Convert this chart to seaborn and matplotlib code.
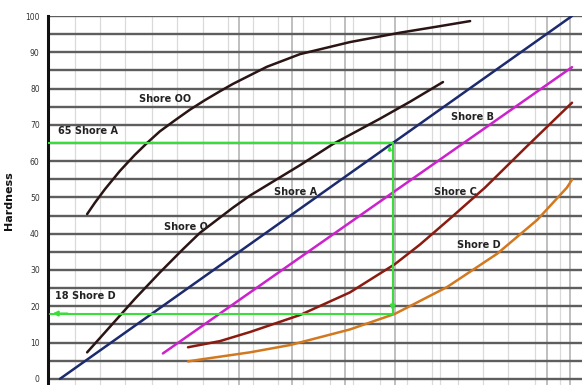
import numpy as np
import pandas as pd
import matplotlib
matplotlib.use("Agg")
import matplotlib.pyplot as plt
import seaborn as sns

# ---- data (x axis = Shore A scale, y = hardness) ----
oo_x = [5.3, 6.8, 8.8, 11.7, 14.6, 17.0, 19.5, 22.5, 25.4, 28.3, 31.3, 33.8, 40.4, 46.9, 56.6, 66.4, 74.2, 80.1]
oo_y = [45.4, 48.5, 52.3, 57.3, 61.7, 65.0, 68.2, 71.3, 74.2, 76.8, 79.3, 81.3, 86.0, 89.5, 92.8, 95.4, 97.2, 98.6]

o_x = [5.3, 9.8, 14.6, 19.5, 24.0, 27.3, 33.8, 37.1, 46.9, 53.3, 62.5, 68.4, 74.8]
o_y = [7.3, 14.4, 22.0, 29.3, 35.7, 40.2, 47.2, 50.5, 58.9, 64.7, 71.7, 76.4, 81.8]

a_x = [0.0, 100.0]
a_y = [0.0, 100.0]

b_x = [20.1, 100.0]
b_y = [7.0, 85.9]

c_x = [25.0, 31.25, 37.1, 46.9, 56.6, 65.4, 70.3, 76.2, 83.0, 91.2, 100.0]
c_y = [8.7, 10.4, 12.9, 17.6, 23.8, 31.6, 37.0, 44.2, 52.7, 64.1, 76.1]

d_x = [25.0, 27.3, 37.1, 44.9, 56.6, 65.4, 75.6, 85.4, 93.2, 99.0, 100.0]
d_y = [4.8, 5.3, 7.3, 9.3, 13.6, 17.9, 25.3, 34.5, 43.8, 52.7, 54.9]

series_names = ["Shore OO", "Shore O", "Shore A", "Shore B", "Shore C", "Shore D"]
series_colors = ["#2a1414", "#2a1414", "#1c2a6e", "#cc22cc", "#8b1a10", "#d2781e"]

label_x = [20.5, 24.6, 46.1, 80.5, 77.3, 81.8]
label_y = [77.2, 41.8, 51.4, 72.3, 51.4, 37.0]

ref_a = 65   # 65 Shore A
ref_d = 18   # 18 Shore D

yticks = list(range(0, 101, 10))
hgrid = list(range(0, 101, 5))
vgrid_x = [2.9, 7.8, 12.7, 18.0, 22.9, 27.9, 32.8, 35.0, 37.7, 42.6, 45.3, 47.5,
           52.7, 55.7, 57.2, 62.5, 65.4, 67.8, 72.7, 74.2, 77.7, 82.6, 87.5,
           92.8, 95.1, 97.7, 99.6]
vgrid_dark = [35.0, 45.3, 55.7, 65.4, 95.1, 99.6]

# ---- build long table ----
xs = [oo_x, o_x, a_x, b_x, c_x, d_x]
ys = [oo_y, o_y, a_y, b_y, c_y, d_y]
frames = []
for name, x, y in zip(series_names, xs, ys):
    frames.append(pd.DataFrame({"x": x, "y": y, "series": name}))
df = pd.concat(frames, ignore_index=True)

sns.set_style("white")
fig = plt.figure(figsize=(5.82, 3.85), dpi=100)
ax = fig.add_axes([48 / 582, 0.0, 1 - 48 / 582, 369 / 385])

# grid
for gx in vgrid_x:
    dark = gx in vgrid_dark
    ax.axvline(gx, color="#b4b4b4" if dark else "#dadada",
               lw=1.2 if dark else 0.9, zorder=0)
for gy in hgrid:
    ax.axhline(gy, color="#5e5e5e", lw=1.7, zorder=1)

sns.lineplot(data=df, x="x", y="y", hue="series",
             palette=dict(zip(series_names, series_colors)),
             sort=False, estimator=None, lw=1.8, legend=False, ax=ax, zorder=3)
for ln in ax.get_lines():
    ln.set_solid_joinstyle("round")
    ln.set_solid_capstyle("round")

# green reference lines
green = "#3ddc3d"
ax.plot([-2.5, ref_a], [ref_a, ref_a], color=green, lw=1.5, zorder=4)
ax.plot([ref_a, ref_a], [ref_a, ref_d], color=green, lw=1.5, zorder=4)
ax.plot([ref_a, -2.0], [ref_d, ref_d], color=green, lw=1.5, zorder=4)
ax.annotate("", xy=(-2.0, ref_d), xytext=(2, ref_d),
            arrowprops=dict(arrowstyle="-|>", color=green, lw=1.5, mutation_scale=7), zorder=5)
ax.annotate("", xy=(ref_a, ref_d), xytext=(ref_a, ref_d + 4),
            arrowprops=dict(arrowstyle="-|>", color=green, lw=1.5, mutation_scale=7), zorder=5)
ax.annotate("", xy=(ref_a - 0.6, ref_a), xytext=(ref_a - 0.6, ref_a - 3),
            arrowprops=dict(arrowstyle="-|>", color=green, lw=1.2, mutation_scale=5), zorder=5)

# labels
for name, lx, ly in zip(series_names, label_x, label_y):
    ax.text(lx, ly, name, fontsize=7, fontweight="bold", color="#222222",
            ha="center", va="center", zorder=6)
ax.text(-0.4, ref_a + 3.2, f"{ref_a} Shore A", fontsize=7, fontweight="bold",
        color="#222222", ha="left", va="center", zorder=6)
ax.text(-1.0, ref_d + 4.8, f"{ref_d} Shore D", fontsize=7, fontweight="bold",
        color="#222222", ha="left", va="center", zorder=6)

ax.set_xlim(-2.34, 101.95)
ax.set_ylim(-1.7, 100)
ax.set_yticks(yticks)
ax.set_yticklabels([str(t) for t in yticks], fontsize=5.5, color="#333333")
ax.set_xticks([])
ax.tick_params(axis="y", length=0, pad=6)
ax.set_xlabel("")
ax.set_ylabel("Hardness", fontsize=8, fontweight="bold", color="#111111", labelpad=8)
for s in ["top", "right", "bottom"]:
    ax.spines[s].set_visible(False)
ax.spines["left"].set_color("#111111")
ax.spines["left"].set_linewidth(2.2)

fig.savefig("out.png", dpi=100)
